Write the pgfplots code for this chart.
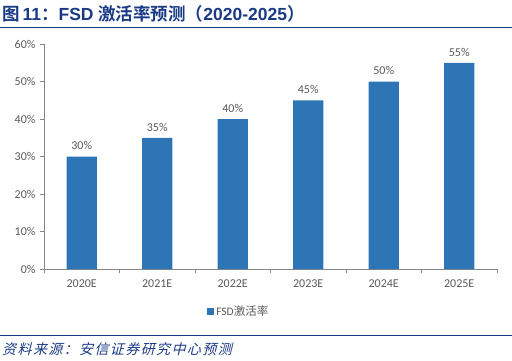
\documentclass[border=0pt]{standalone}
\usepackage{pgfplots}
\pgfplotsset{compat=1.18}
\usepackage{fontspec}
\setmainfont{Carlito}
\newfontfamily\cjk{Noto Sans CJK SC}
\newfontfamily\cjkbold{Noto Sans CJK SC Bold}
\newfontfamily\cjkslant[FakeSlant=0.25,LetterSpace=10]{Noto Sans CJK SC}
\newfontfamily\arialb{Liberation Sans Bold}
\definecolor{barblue}{HTML}{2E75B6}
\definecolor{titleblue}{HTML}{1A3A86}
\definecolor{txtgray}{HTML}{595959}
\definecolor{axgray}{HTML}{868686}
\begin{document}
\begin{tikzpicture}
\path[use as bounding box] (0pt,0pt) rectangle (512pt,360pt);
\draw[titleblue, line width=1pt] (0pt,333pt) -- (512pt,333pt);
\draw[titleblue, line width=1pt] (0pt,25pt) -- (512pt,25pt);
\node[anchor=west, inner sep=0, titleblue] at (2pt,346pt) {\fontsize{17.5}{19}\selectfont\cjkbold 图\,\arialb 11\cjkbold：\arialb FSD \cjkbold 激活率预测（\arialb 2020-2025\cjkbold）};
\node[anchor=west, inner sep=0, titleblue] at (2pt,11pt) {\fontsize{14}{16}\selectfont\cjkslant 资料来源：安信证券研究中心预测};
\begin{axis}[
  at={(44pt,91pt)}, anchor=south west,
  scale only axis, width=453pt, height=225pt,
  ymin=0, ymax=60, xmin=-0.5, xmax=5.5,
  ybar, bar width=0.4,
  ytick={0,10,...,60},
  yticklabel={\pgfmathprintnumber{\tick}\%},
  /pgf/number format/assume math mode=true,
  xtick={0,...,5},
  xticklabels={2020E,2021E,2022E,2023E,2024E,2025E},
  minor xtick={-0.5,0.5,...,5.5},
  major x tick style={draw=none},
  tick align=outside,
  major tick length=4pt, minor tick length=4pt,
  axis x line*=bottom, axis y line*=left,
  axis line style={axgray, line width=0.8pt},
  tick style={axgray, line width=0.8pt},
  every tick label/.append style={font=\fontsize{12}{14}\selectfont, text=txtgray},
  xticklabel style={yshift=-3pt},
  yticklabel style={xshift=-1pt},
  nodes near coords={\pgfmathprintnumber{\pgfplotspointmeta}\%},
  every node near coord/.append style={font=\fontsize{12}{14}\selectfont, text=txtgray, yshift=3pt},
  legend style={at={(0.43,-0.19)}, anchor=center, draw=none, fill=none, font=\fontsize{11.5}{13}\selectfont\color{txtgray}},
  legend image code/.code={\fill[#1] (0pt,-3pt) rectangle (7pt,4pt);},
]
\addplot[fill=barblue, draw=none] coordinates {(0,30) (1,35) (2,40) (3,45) (4,50) (5,55)};
\addlegendentry{FSD\cjk 激活率}
\end{axis}
\end{tikzpicture}
\end{document}
